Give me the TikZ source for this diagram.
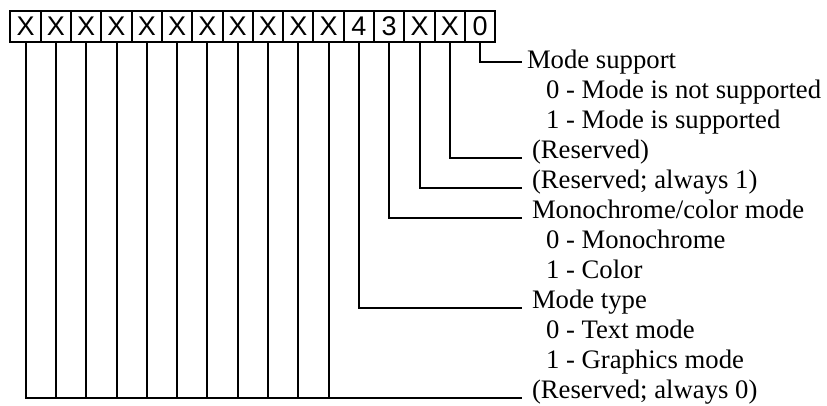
\documentclass[tikz,border=0pt]{standalone}
\usepackage{fontspec}
\setmainfont{Liberation Serif}
\newfontfamily\cellfont{Liberation Sans}
\usetikzlibrary{positioning}

\begin{document}
\begin{tikzpicture}[x=1pt,y=-1pt,line width=2pt,on grid,node distance=30.3pt,
    bit/.style={draw,minimum width=30.3pt,minimum height=31pt,inner sep=0pt,
      font=\cellfont\fontsize{27}{27}\selectfont},
    field/.style={anchor=base west,inner xsep=10pt,inner ysep=0pt,outer sep=0pt,
      font=\fontsize{26.7}{30}\selectfont},
    choice/.style={field,xshift=14pt}]
  \useasboundingbox (0,0) rectangle (827,405);
  % register cells, bit 15 on the left
  \node[bit] (c15) at (25.6,26.5) {X};
  \foreach \lab [count=\i from 0,evaluate=\i as \b using int(14-\i),
                 evaluate=\i as \p using int(15-\i)]
      in {X,X,X,X,X,X,X,X,X,X,4,3,X,X,0}
    \node[bit,right=of c\p] (c\b) {\lab};

  % field descriptions
  \node[field,inner xsep=5pt] (t0) at (522,68) {Mode support};
  \node[choice] (s0a) at (522,98) {0 - Mode is not supported};
  \node[choice] (s0b) at (522,128) {1 - Mode is supported};
  \node[field] (t1) at (522,158) {(Reserved)};
  \node[field] (t2) at (522,188) {(Reserved; always 1)};
  \node[field] (t3) at (522,218) {Monochrome/color mode};
  \node[choice] (s3a) at (522,248) {0 - Monochrome};
  \node[choice] (s3b) at (522,278) {1 - Color};
  \node[field] (t4) at (522,308) {Mode type};
  \node[choice] (s4a) at (522,338) {0 - Text mode};
  \node[choice] (s4b) at (522,368) {1 - Graphics mode};
  \node[field] (t5) at (522,398) {(Reserved; always 0)};

  % leader lines
  \draw (c0.south) |- (t0.west);
  \draw (c1.south) |- (t1.base west);
  \draw (c2.south) |- (t2.base west);
  \draw (c3.south) |- (t3.base west);
  \draw (c4.south) |- (t4.base west);
  \draw (c15.south) |- (t5.base west);
  \foreach \b in {5,...,14}
    \draw (c\b.south) -- (c\b.south |- t5.base west);
\end{tikzpicture}
\end{document}
